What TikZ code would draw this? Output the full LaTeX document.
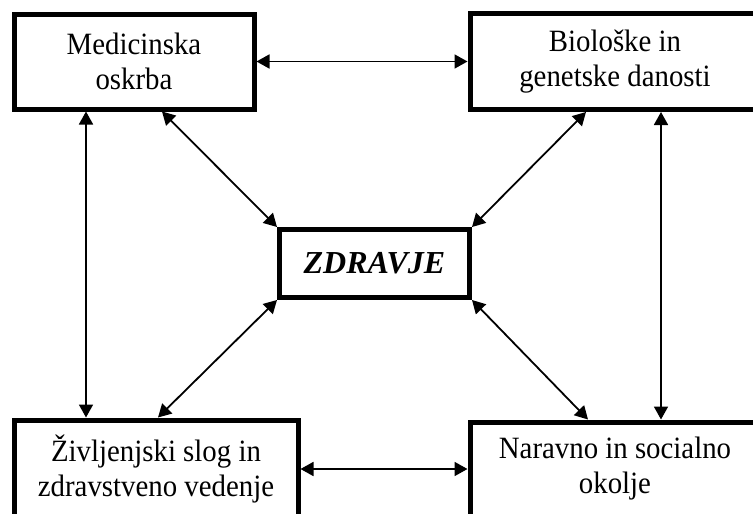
\documentclass[tikz,border=0pt]{standalone}
\usepackage{fontspec}
\setmainfont{Liberation Serif}[FakeStretch=0.93]
\newfontfamily\zfont{Liberation Serif}
\usetikzlibrary{arrows.meta}
\begin{document}
\begin{tikzpicture}[x=1pt,y=-1pt,
  box/.style={draw,line width=5pt,rectangle,inner sep=0pt,align=center,
    font=\fontsize{31}{35}\selectfont},
  link/.style={line width=1.8pt,{Triangle[length=13pt,width=14pt]}-{Triangle[length=13pt,width=14pt]}}]
\useasboundingbox (0,0) rectangle (753,514);
\clip (0,0) rectangle (753,514);
\node[box,minimum width=240pt,minimum height=95pt] (A) at (134,61.5) {Medicinska\\oskrba};
\node[box,minimum width=290pt,minimum height=96pt] (B) at (615,61.5) {Biološke in\\genetske danosti};
\node[box,minimum width=190pt,minimum height=68pt,font=\zfont\fontsize{32}{36}\selectfont\bfseries\itshape] (C) at (374.5,263.5) {ZDRAVJE};
\node[box,minimum width=284pt,minimum height=98pt] (D) at (156,469) {Življenjski slog in\\zdravstveno vedenje};
\node[box,minimum width=290pt,minimum height=94pt] (E) at (615,469) {Naravno in socialno\\okolje};
\draw[link] (A.east) -- (B.west);
\draw[link] (D.east) -- (E.west);
\draw[link] ([xshift=-48pt]A.south) -- ([xshift=-70pt]D.north);
\draw[link] ([xshift=46pt]B.south) -- ([xshift=46pt]E.north);
\draw[link] ([xshift=28pt]A.south) -- (C.north west);
\draw[link] ([xshift=-29pt]B.south) -- (C.north east);
\draw[link] ([xshift=2pt]D.north) -- (C.south west);
\draw[link] ([xshift=-27pt]E.north) -- (C.south east);
\end{tikzpicture}
\end{document}
